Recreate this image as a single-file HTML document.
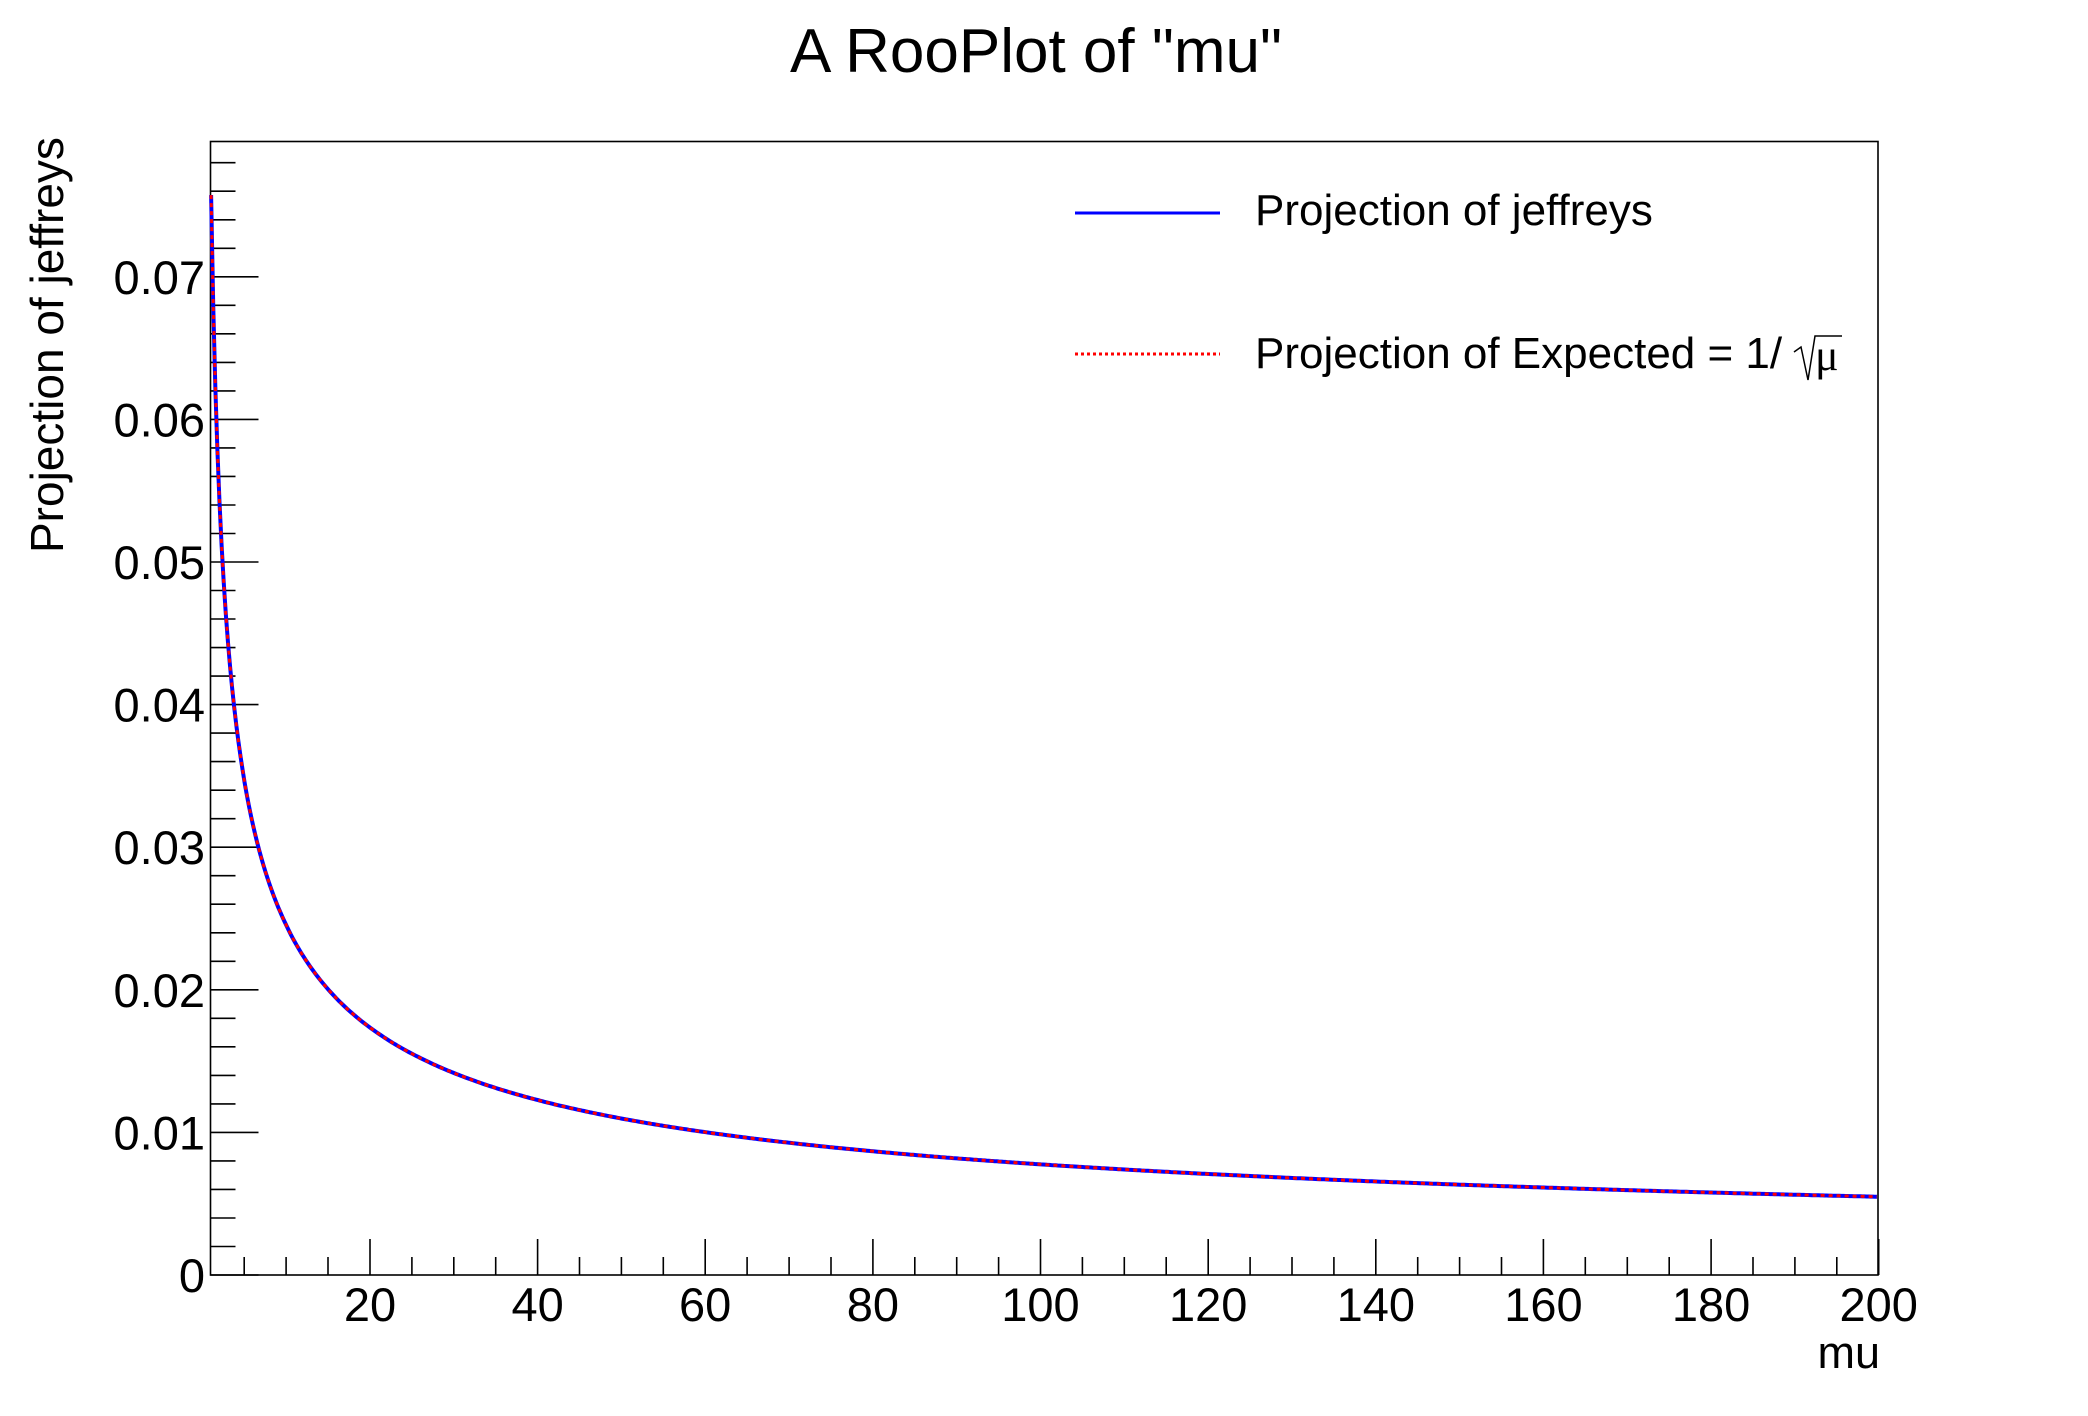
<!DOCTYPE html>
<html><head><meta charset="utf-8"><style>html,body{margin:0;padding:0;background:#fff}svg{display:block}</style></head>
<body>
<svg id="s" width="2088" height="1416" xmlns="http://www.w3.org/2000/svg" font-family="'Liberation Sans', sans-serif">
<rect width="2088" height="1416" fill="#fff"/>
<text x="1036" y="72" font-size="62" text-anchor="middle">A RooPlot of "mu"</text>
<rect x="210.5" y="141.5" width="1667.5" height="1133.5" fill="none" stroke="#000" stroke-width="1.6"/>
<g id="ticks" stroke="#000" stroke-width="1.6"></g>
<g id="labels" font-size="47"></g>
<text transform="translate(63,553) rotate(-90)" font-size="46" text-anchor="start">Projection of jeffreys</text>
<text x="1880" y="1368" font-size="45" text-anchor="end">mu</text>
<path id="cb" fill="none" stroke="#0000ff" stroke-width="4"/>
<path id="cr" fill="none" stroke="#ff0000" stroke-width="3" stroke-dasharray="4,4"/>
<line x1="1075" y1="213" x2="1220" y2="213" stroke="#0000ff" stroke-width="3"/>
<line x1="1075" y1="354" x2="1220" y2="354" stroke="#ff0000" stroke-width="3" stroke-dasharray="3,3"/>
<text x="1255" y="225" font-size="44">Projection of Jeffreys</text>
<text x="1255" y="368" font-size="44">Projection of Expected = 1/</text>
<path d="M1794 352 L1801 347 L1808 380 L1815 336 L1842 336" fill="none" stroke="#000" stroke-width="1.5"/>
<text x="1815" y="370" font-size="44" font-family="'Liberation Serif', serif">μ</text>
</svg>
<script>
document.querySelectorAll('text')[3].textContent='Projection of jeffreys';
var X0=210.7,XS=8.382,XM=1,Y0=1275,YS=14260;
function px(m){return X0+(m-XM)*XS}function py(v){return Y0-v*YS}
var t='',l='';
for(var v=0;v<=0.0785;v+=0.002){var y=py(v),maj=Math.round(v*1000)%10==0;t+='<line x1="210.5" x2="'+(210.5+(maj?48:25))+'" y1="'+y.toFixed(1)+'" y2="'+y.toFixed(1)+'"/>';
if(maj){var s=Math.round(v*100);l+='<text x="205" y="'+(y+17).toFixed(1)+'" text-anchor="end">'+(s==0?'0':'0.0'+s)+'</text>';}}
for(var m=5;m<=200;m+=5){var x=px(m),maj=m%20==0;t+='<line y1="1275" y2="'+(1275-(maj?36:18))+'" x1="'+x.toFixed(1)+'" x2="'+x.toFixed(1)+'"/>';
if(maj)l+='<text x="'+x.toFixed(1)+'" y="1321" text-anchor="middle">'+m+'</text>';}
document.getElementById('ticks').innerHTML=t;document.getElementById('labels').innerHTML=l;
var d='';for(var m=1.05;m<=200.001;m+=0.25){d+=(d?'L':'M')+px(m).toFixed(1)+' '+py(0.0776/Math.sqrt(m)).toFixed(1);}
document.getElementById('cb').setAttribute('d',d);document.getElementById('cr').setAttribute('d',d);
</script>
</body></html>
